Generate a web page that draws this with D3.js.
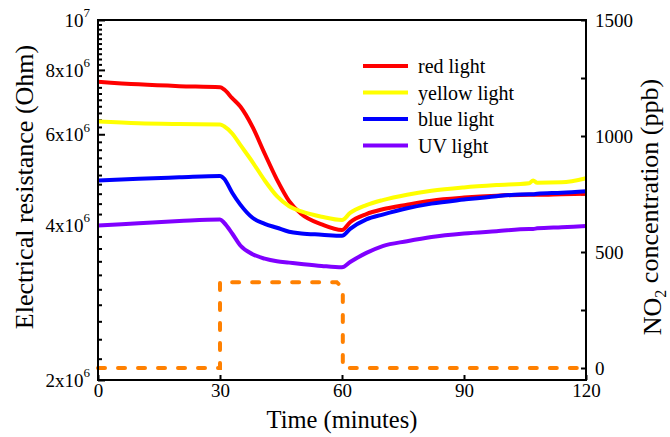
<!DOCTYPE html>
<html>
<head>
<meta charset="utf-8">
<script src="https://cdn.jsdelivr.net/npm/d3@7/dist/d3.min.js"></script>
<style>
  body { margin: 0; background: #fff; }
  text { font-family: "Liberation Serif", "Times New Roman", serif; fill: #000; }
</style>
</head>
<body>
<script>
// time axis (minutes), shared by the four resistance curves
var times = [0, 10, 20, 30, 31, 33, 35, 38, 41, 44, 47, 50, 55, 60, 62, 66, 70, 76, 82, 90, 98, 106, 107, 108, 114, 120];

// resistance in units of 1e6 Ohm
var redLight    = [7.59, 7.50, 7.44, 7.40, 7.33, 7.05, 6.79, 6.20, 5.50, 4.90, 4.45, 4.20, 4.01, 3.91, 4.05, 4.20, 4.29, 4.38, 4.46, 4.52, 4.56, 4.58, 4.58, 4.58, 4.59, 4.60];
var yellowLight = [6.35, 6.30, 6.28, 6.27, 6.22, 6.02, 5.72, 5.30, 4.88, 4.55, 4.35, 4.25, 4.15, 4.09, 4.22, 4.37, 4.47, 4.58, 4.66, 4.73, 4.78, 4.82, 4.88, 4.83, 4.84, 4.93];
var blueLight   = [4.88, 4.92, 4.95, 4.98, 4.92, 4.62, 4.38, 4.13, 4.02, 3.95, 3.88, 3.85, 3.83, 3.81, 3.93, 4.10, 4.19, 4.31, 4.40, 4.48, 4.55, 4.59, 4.59, 4.60, 4.62, 4.65];
var uvLight     = [3.99, 4.03, 4.07, 4.10, 4.04, 3.85, 3.65, 3.51, 3.44, 3.40, 3.38, 3.36, 3.33, 3.31, 3.39, 3.53, 3.64, 3.72, 3.79, 3.85, 3.89, 3.93, 3.93, 3.94, 3.96, 3.98];

// NO2 step (ppb)
var no2Time  = [0, 30, 30, 58.7, 60.2, 60.2, 120];
var no2Value = [0, 0, 370, 370, 345, 0, 0];

var seriesNames  = ['red light', 'yellow light', 'blue light', 'UV light'];
var seriesColors = ['#ff0000', '#ffff00', '#0000ff', '#8000ff'];
var seriesValues = [redLight, yellowLight, blueLight, uvLight];

var xTicks = [0, 30, 60, 90, 120];
var yMajor = [2e6, 4e6, 6e6, 8e6, 1e7];
var yMajorLabels = [['2x10', '6'], ['4x10', '6'], ['6x10', '6'], ['8x10', '6'], ['10', '7']];
var y2Ticks = [0, 250, 500, 750, 1000, 1250, 1500];
var y2Labels = [0, 500, 1000, 1500];

var width = 670, height = 437;
var plotLeft = 98, plotRight = 586, plotTop = 20, plotBottom = 380;

var svg = d3.select('body').append('svg')
  .attr('width', width)
  .attr('height', height);

svg.append('rect').attr('width', width).attr('height', height).attr('fill', '#fff');

var x = d3.scaleLinear().domain([0, 120]).range([plotLeft, plotRight]);
var y = d3.scaleLog().domain([2e6, 1e7]).range([plotBottom, plotTop]);
var y2 = d3.scaleLinear().domain([0, 1500]).range([368, plotTop]);

// minor ticks every 0.2e6
var yMinor = d3.range(2.2e6, 1e7, 2e5).filter(function(v) {
  return yMajor.every(function(m) { return Math.abs(m - v) > 1; });
});

// left axis: minor ticks
svg.append('g')
  .attr('transform', 'translate(' + plotLeft + ',0)')
  .call(d3.axisLeft(y).tickValues(yMinor).tickSize(-4).tickSizeOuter(0).tickFormat(''))
  .call(function(g) { g.select('.domain').remove(); })
  .selectAll('line').attr('stroke-width', 2);

// left axis: major ticks + labels
var ly = svg.append('g')
  .attr('transform', 'translate(' + plotLeft + ',0)')
  .call(d3.axisLeft(y).tickValues(yMajor).tickSize(-7).tickSizeOuter(0).tickPadding(8).tickFormat(''))
  .call(function(g) { g.select('.domain').remove(); });
ly.selectAll('line').attr('stroke-width', 2);
ly.selectAll('text')
  .attr('font-size', 19)
  .attr('font-family', '"Liberation Serif", serif')
  .attr('dy', '0.35em')
  .each(function(d, i) {
    var t = d3.select(this);
    var lab = yMajorLabels[i];
    t.append('tspan').text(lab[0]);
    t.append('tspan').attr('font-size', 13).attr('dy', '-0.75em').text(lab[1]);
  });

// bottom axis
var bx = svg.append('g')
  .attr('transform', 'translate(0,' + plotBottom + ')')
  .call(d3.axisBottom(x).tickValues(xTicks).tickSize(-5).tickSizeOuter(0).tickPadding(3))
  .call(function(g) { g.select('.domain').remove(); });
bx.selectAll('line').attr('stroke-width', 2);
bx.selectAll('text').attr('font-size', 19).attr('font-family', '"Liberation Serif", serif');

// right axis
var ry = svg.append('g')
  .attr('transform', 'translate(' + plotRight + ',0)')
  .call(d3.axisRight(y2).tickValues(y2Ticks).tickSize(-5).tickSizeOuter(0).tickPadding(9)
    .tickFormat(function(d) { return y2Labels.indexOf(d) >= 0 ? d : ''; }))
  .call(function(g) { g.select('.domain').remove(); });
ry.selectAll('line').attr('stroke-width', 2);
ry.selectAll('text').attr('font-size', 19).attr('font-family', '"Liberation Serif", serif');

// curves
var line = d3.line()
  .x(function(d) { return x(d[0]); })
  .y(function(d) { return y(d[1] * 1e6); })
  .curve(d3.curveMonotoneX);

seriesValues.forEach(function(vals, i) {
  svg.append('path')
    .datum(times.map(function(t, j) { return [t, vals[j]]; }))
    .attr('fill', 'none')
    .attr('stroke', seriesColors[i])
    .attr('stroke-width', 4)
    .attr('stroke-linejoin', 'round')
    .attr('d', line);
});

// NO2 dashed step
var no2Line = d3.line()
  .x(function(d) { return x(d[0]); })
  .y(function(d) { return y2(d[1]); });

svg.append('path')
  .datum(no2Time.map(function(t, j) { return [t, no2Value[j]]; }))
  .attr('fill', 'none')
  .attr('stroke', '#ff8000')
  .attr('stroke-width', 4)
  .attr('stroke-linecap', 'round')
  .attr('stroke-dasharray', '7,13')
  .attr('d', no2Line);

// frame
svg.append('rect')
  .attr('x', plotLeft).attr('y', plotTop)
  .attr('width', plotRight - plotLeft).attr('height', plotBottom - plotTop)
  .attr('fill', 'none').attr('stroke', '#000').attr('stroke-width', 2);

// legend
var legend = svg.append('g');
seriesNames.forEach(function(name, i) {
  var ly0 = 66 + i * 26.5;
  legend.append('line')
    .attr('x1', 363).attr('x2', 408)
    .attr('y1', ly0).attr('y2', ly0)
    .attr('stroke', seriesColors[i]).attr('stroke-width', 4);
  legend.append('text')
    .attr('x', 418).attr('y', ly0).attr('dy', '0.35em')
    .attr('font-size', 20)
    .text(name);
});

// axis titles
svg.append('text')
  .attr('x', (plotLeft + plotRight) / 2).attr('y', 428)
  .attr('text-anchor', 'middle').attr('font-size', 24.5)
  .text('Time (minutes)');

svg.append('text')
  .attr('transform', 'translate(33,187) rotate(-90)')
  .attr('text-anchor', 'middle').attr('font-size', 26)
  .text('Electrical resistance (Ohm)');

var rt = svg.append('text')
  .attr('transform', 'translate(661,207) rotate(-90)')
  .attr('text-anchor', 'middle').attr('font-size', 26);
rt.append('tspan').text('NO');
rt.append('tspan').attr('font-size', 16).attr('dy', '0.3em').text('2');
rt.append('tspan').attr('dy', '-0.3em').text(' concentration (ppb)');
</script>
</body>
</html>
